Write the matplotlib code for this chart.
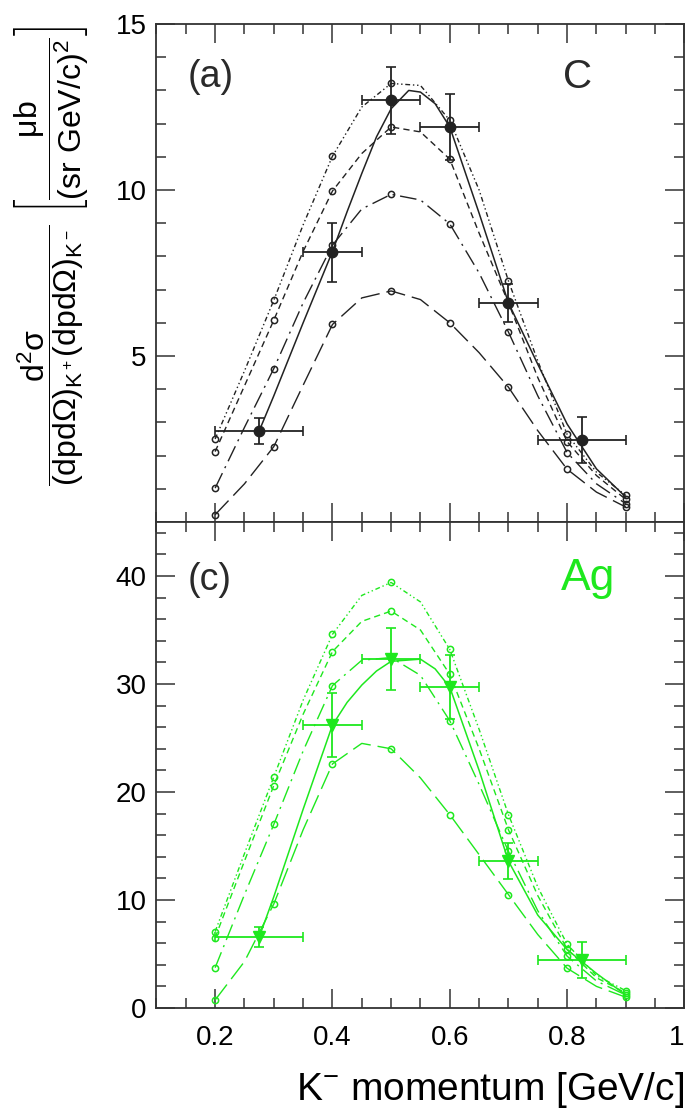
import matplotlib
matplotlib.use("Agg")
import matplotlib.pyplot as plt
from matplotlib.ticker import MultipleLocator

plt.rcParams['font.family'] = ['Liberation Sans', 'DejaVu Sans']
plt.rcParams['mathtext.fontset'] = 'custom'
plt.rcParams['mathtext.rm'] = 'Liberation Sans'
plt.rcParams['mathtext.it'] = 'Liberation Sans'
plt.rcParams['mathtext.bf'] = 'Liberation Sans:bold'

# K- momentum grid of the model curves (markers every 0.1)
mom = [0.2, 0.25, 0.3, 0.35, 0.4, 0.45, 0.5, 0.55, 0.6, 0.65, 0.7, 0.75, 0.8, 0.85, 0.9]

# carbon: four model curves
c_dashdotdot = [2.5, 4.55, 6.68, 8.95, 11.02, 12.5, 13.21, 13.15, 12.1, 10.0, 7.26, 4.85, 2.64, 1.5, 0.8]
c_dash = [2.12, 4.1, 6.08, 8.15, 9.97, 11.1, 11.9, 11.75, 10.93, 8.7, 6.6, 4.35, 2.42, 1.4, 0.68]
c_longdashdot = [1.02, 2.85, 4.62, 6.6, 8.34, 9.43, 9.87, 9.7, 8.98, 7.5, 5.72, 3.8, 2.09, 1.15, 0.55]
c_longdash = [0.22, 1.15, 2.27, 4.12, 5.95, 6.75, 6.96, 6.7, 6.0, 5.1, 4.06, 2.75, 1.59, 0.9, 0.45]

# silver: four model curves
ag_dashdotdot = [7.07, 14.3, 21.4, 28.5, 34.6, 38.2, 39.4, 37.6, 33.2, 25.8, 17.9, 11.2, 5.9, 3.0, 1.6]
ag_dash = [6.51, 13.6, 20.6, 27.2, 33.0, 35.8, 36.75, 35.0, 30.9, 24.0, 16.5, 10.4, 5.46, 2.8, 1.4]
ag_longdashdot = [3.73, 10.5, 17.0, 23.8, 29.85, 32.2, 32.45, 30.8, 26.6, 20.7, 14.5, 9.0, 4.8, 2.5, 1.2]
ag_longdash = [0.74, 4.3, 9.63, 16.5, 22.6, 24.5, 24.0, 21.3, 17.9, 14.2, 10.5, 6.8, 3.68, 2.0, 1.0]

# fits through the data
c_fit_x = [0.275, 0.3, 0.35, 0.4, 0.425, 0.45, 0.475, 0.5, 0.53, 0.55, 0.575, 0.6, 0.65, 0.7, 0.75, 0.8, 0.85, 0.9]
c_fit = [2.74, 3.8, 6.0, 8.15, 9.35, 10.5, 11.6, 12.45, 13.0, 12.95, 12.6, 11.9, 9.3, 6.6, 4.75, 2.95, 1.6, 0.75]
ag_fit_x = [0.275, 0.3, 0.35, 0.4, 0.425, 0.45, 0.475, 0.5, 0.55, 0.575, 0.6, 0.65, 0.7, 0.75, 0.8, 0.85, 0.9]
ag_fit = [6.55, 10.3, 18.4, 26.2, 28.3, 29.9, 31.2, 32.1, 32.3, 31.4, 29.7, 22.0, 13.6, 8.6, 5.4, 3.2, 1.2]

# measured points
data_x = [0.275, 0.4, 0.5, 0.6, 0.7, 0.825]
data_xlo = [0.2, 0.35, 0.45, 0.55, 0.65, 0.75]
data_xhi = [0.35, 0.45, 0.55, 0.65, 0.75, 0.9]
c_data = [2.74, 8.12, 12.7, 11.9, 6.6, 2.47]
c_err = [0.39, 0.9, 1.0, 1.0, 0.58, 0.7]
ag_data = [6.55, 26.2, 32.3, 29.7, 13.6, 4.45]
ag_err = [0.93, 3.0, 2.9, 2.95, 1.7, 1.67]

styles = [(0, (3.5, 2, 1, 2, 1, 2)), (0, (4.5, 3)), (0, (12, 4, 1.5, 4)), (0, (14, 5))]

fig = plt.figure(figsize=(6.89, 11.18), dpi=100)
ax1 = fig.add_axes([0.2271, 0.5331, 0.7663, 0.4454])
ax2 = fig.add_axes([0.2271, 0.0984, 0.7663, 0.4347])

green = '#1ee81e'
panels = [
    (ax1, [c_dashdotdot, c_dash, c_longdashdot, c_longdash], c_fit_x, c_fit, c_data, c_err, '#222222', 'o', 7.5),
    (ax2, [ag_dashdotdot, ag_dash, ag_longdashdot, ag_longdash], ag_fit_x, ag_fit, ag_data, ag_err, green, 'v', 9),
]

for ax, curves, fx, fy, dy, de, col, mk, ms in panels:
    for vals, ls in zip(curves, styles):
        ax.plot(mom, vals, color=col, lw=1.0, ls=ls, marker='o', markevery=2,
                ms=4.5, mfc='none', mew=1.1)
    ax.plot(fx, fy, color=col, lw=1.1)
    xerr = [[x - lo for x, lo in zip(data_x, data_xlo)],
            [hi - x for x, hi in zip(data_x, data_xhi)]]
    ax.errorbar(data_x, dy, xerr=xerr, yerr=de, fmt=mk, color=col, ms=ms,
                elinewidth=1.3, capsize=3.5, capthick=1.2, zorder=5)
    ax.set_xlim(0.1, 1.0)
    ax.xaxis.set_major_locator(MultipleLocator(0.2))
    ax.xaxis.set_minor_locator(MultipleLocator(0.05))
    ax.tick_params(which='both', direction='in', top=True, right=True,
                   labelsize=20, width=1.1, color='#333333')
    ax.tick_params(which='major', length=14)
    ax.tick_params(which='minor', length=7)
    ax.tick_params(axis='y', pad=7)
    ax.tick_params(axis='x', pad=12)
    for s in ax.spines.values():
        s.set_linewidth(1.3)
        s.set_color('#333333')

ax1.set_ylim(0, 15)
ax1.set_yticks([5, 10, 15])
ax1.yaxis.set_minor_locator(MultipleLocator(1))
ax1.tick_params(labelbottom=False)

ax2.set_ylim(0, 45)
ax2.set_yticks([0, 10, 20, 30, 40])
ax2.yaxis.set_minor_locator(MultipleLocator(2))
ax2.set_xticks([0.2, 0.4, 0.6, 0.8, 1.0])
ax2.set_xticklabels(['0.2', '0.4', '0.6', '0.8', '1'])
ax2.get_xticklabels()[-1].set_horizontalalignment('right')

ax1.text(0.153, 13.1, '(a)', fontsize=27, color='#2a2a2a', va='baseline')
ax1.text(0.793, 13.07, 'C', fontsize=29, color='#2a2a2a', va='baseline')
ax2.text(0.153, 38.7, '(c)', fontsize=27, color='#2a2a2a', va='baseline')
ax2.text(0.79, 38.7, 'Ag', fontsize=32, color=green, va='baseline')

ax2.set_xlabel(r'K$^{-}$ momentum [GeV/c]', fontsize=28, ha='right', x=1.0, labelpad=14)

fig.text(52 / 689, 1 - 256 / 1118,
         r'$\dfrac{\mathrm{d^2\sigma}}{\mathrm{(dpd\Omega)_{K^+}(dpd\Omega)_{K^-}}}\ \left[\dfrac{\mathrm{\mu b}}{\mathrm{(sr\ GeV/c)^2}}\right]$',
         rotation=90, ha='center', va='center', fontsize=23)

fig.savefig('out.png', dpi=100)
